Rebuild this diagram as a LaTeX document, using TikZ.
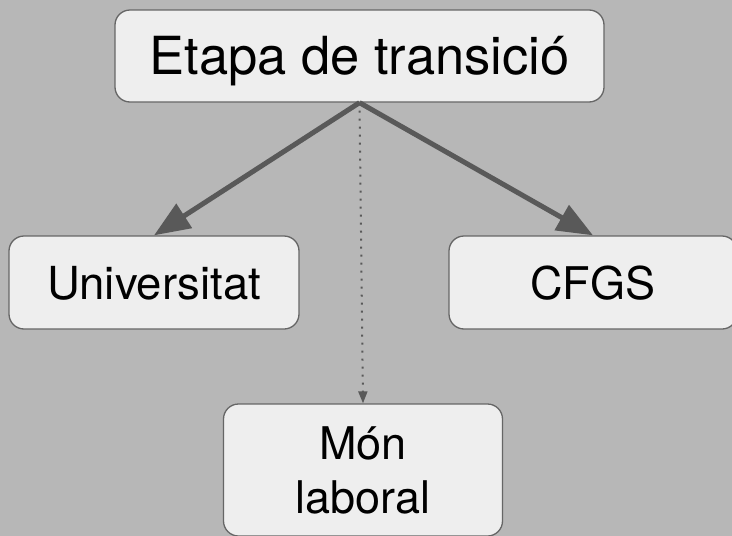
\documentclass[tikz,border=0pt]{standalone}
\usepackage{fontspec}
\setmainfont{TeX Gyre Heros}
\usetikzlibrary{arrows.meta}
\definecolor{bgc}{HTML}{B7B7B7}
\definecolor{boxfill}{HTML}{EEEEEE}
\definecolor{boxline}{HTML}{666666}
\definecolor{arrc}{HTML}{595959}
\tikzset{
  box/.style={draw=boxline, fill=boxfill, rounded corners=15pt, line width=1.3pt, inner sep=0pt, text=black},
  bigarr/.style={draw=arrc, line width=5pt, -{Triangle[length=36pt,width=28pt]}},
  dotarr/.style={draw=arrc, line width=2pt, dash pattern=on 2pt off 6pt, -{Triangle[length=12pt,width=9pt]}},
}
\begin{document}
\begin{tikzpicture}[x=1pt,y=-1pt]
\fill[bgc] (0,0) rectangle (732,536);
\useasboundingbox (0,0) rectangle (732,536);
\node[box, minimum width=489pt, minimum height=92pt, font=\fontsize{52.5}{62}\selectfont, text height=36pt, text depth=0pt] (top) at (359.5,56) {Etapa de transició};
\node[box, minimum width=290pt, minimum height=93pt, font=\fontsize{45.5}{54}\selectfont, text height=33.6pt, text depth=0pt] (uni) at (154,282.5) {Universitat};
\node[box, minimum width=288pt, minimum height=93pt, font=\fontsize{45}{54}\selectfont, text height=33.6pt, text depth=0pt] (cfgs) at (593,282.5) {CFGS};
\node[box, minimum width=279pt, minimum height=132pt, align=center, font=\fontsize{45}{54}\selectfont] (mon) at (363,470) {Món\\laboral};
\draw[bigarr] (top.south) -- (uni.north);
\draw[bigarr] (top.south) -- (cfgs.north);
\draw[dotarr] (top.south) -- (mon.north);
\end{tikzpicture}
\end{document}
